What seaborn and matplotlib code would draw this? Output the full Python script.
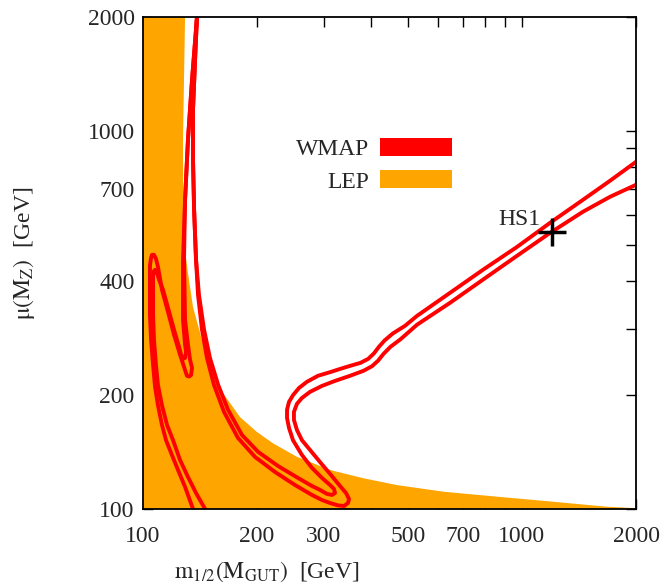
import pandas as pd
import seaborn as sns
import matplotlib
matplotlib.use('Agg')
import matplotlib.pyplot as plt
from matplotlib.patches import Patch

# LEP excluded region (upper edge of mu vs m_1/2)
lep_m12 = [100, 100, 129.1, 127.5, 127.5, 128.5, 131.4, 135.5, 143.1, 152.1, 162.8, 180.3,
           199.5, 220.7, 254.4, 311.5, 381.3, 467, 620, 857.5, 1209, 1673, 2000, 2000]
lep_mu = [100, 2000, 2000, 946, 600, 500, 421, 342, 280, 229, 202, 175,
          160, 149, 137.5, 126.8, 120.6, 115.7, 111.1, 107.8, 104.5, 101.4, 100.5, 100]

# WMAP contours, left loop (outer / inner)
wmap_a_out_m12 = [138.8, 134.7, 131.4, 129.1, 128.3, 129.1, 131.4, 133.1, 134.7, 133.9, 132.3,
                  130.6, 129.1, 125.2, 120.7, 116.4, 112.2, 109.5, 108.2, 106.9, 105.6, 105.0,
                  104.3, 104.3, 104.3, 105.0, 106.3, 107.6, 109.5, 112.2, 115.0, 119.2, 123.7,
                  129.1, 135.5]
wmap_a_out_mu = [2000, 1364, 946, 657, 456, 316, 272, 247.8, 236, 226, 224,
                 225, 233, 256, 289, 332, 380, 436.7, 458.4, 470, 470, 461.3,
                 439.4, 380, 326, 280, 240, 210, 188, 166.8, 152, 138.9, 126.8,
                 114.4, 100]
wmap_a_in_m12 = [138.8, 134.7, 131.4, 129.1, 127.5, 127.5, 129.1, 129.9, 129.1, 127.5, 126.0,
                 124.5, 120.7, 116.4, 112.9, 110.2, 108.9, 107.6, 106.9, 106.3, 106.3, 106.3,
                 106.9, 108.2, 109.5, 112.2, 115.7, 120.0, 125.2, 131.4, 138.0, 145.8]
wmap_a_in_mu = [2000, 1364, 946, 657, 456, 316, 272, 260.2, 250.8, 249.4, 256,
                268, 298, 340.3, 380, 404, 421, 429, 426.4, 413.4, 380, 326,
                280, 240, 212.8, 188, 166.8, 152, 134.8, 121.5, 110.2, 100]

# WMAP contours, right branch (inner / outer)
wmap_r_in_m12 = [138.8, 137.2, 135.5, 135.5, 136.4, 138.0, 140.5, 144.9, 150.2, 157.9, 167.6,
                 182.4, 201.2, 227.1, 256.4, 279.2, 293.1, 305.8, 315.3, 321.1, 319.1, 311.5,
                 296.7, 279.2, 262.7, 248.8, 242.8, 239.9, 239.9, 242.8, 248.8, 258.1, 270.9,
                 289.5, 311.5, 331.1, 351.8, 375.0, 393.0, 407.0, 419.4, 434.0, 456.0, 491.3,
                 528.4, 645.7, 789, 970, 1186, 1449, 1707, 2000]
wmap_r_in_mu = [2000, 1541, 1137, 838, 618, 456, 368, 298, 250.8, 212.8, 183,
                157, 141.6, 129.9, 120.8, 115, 112.3, 109.6, 108.9, 110.2, 113, 115.7,
                120.8, 128.4, 138.9, 152, 163.8, 174, 183, 191.9, 200, 209, 217,
                225, 230, 234.6, 239, 243.5, 249.5, 258.0, 268.5, 279.0, 291.0, 305,
                324, 372.8, 429, 493, 571, 657, 737.6, 828]
wmap_r_out_m12 = [138.8, 137.2, 135.5, 135.5, 136.4, 138.0, 139.7, 143.1, 147.5, 153.9, 163.6,
                  178.1, 197.5, 222.9, 251.8, 279.2, 296.7, 311.5, 327.0, 339.2, 347.5, 349.6,
                  343.4, 331.1, 313.3, 293.1, 275.8, 262.7, 254.8, 250.2, 250.2, 254.8, 262.7,
                  275.8, 296.7, 321.1, 351.8, 382.0, 402.0, 416.9, 431.0, 450.0, 478.0, 528.4,
                  645.7, 789, 970, 1186, 1449, 1707, 2000]
wmap_r_out_mu = [2000, 1541, 1137, 838, 618, 456, 368, 298, 250.8, 212.8, 180.6,
                 154.1, 137.3, 125.3, 115.7, 108.9, 105.6, 103.7, 102.2, 101.8, 103.7, 106.3,
                 110.2, 115.0, 123, 133.1, 143.3, 152, 161.8, 172, 180.6, 189.7, 196.6,
                 204, 211.6, 218.1, 225, 232, 238.5, 246.5, 257.0, 268.5, 281.0, 307,
                 350.8, 404, 467, 537, 611, 669, 720]

hs1_m12 = [1200]
hs1_mu = [540]

x_ticks = [100, 200, 300, 400, 500, 600, 700, 800, 900, 1000, 2000]
x_labels = ['100', '200', '300', '', '500', '', '700', '', '', '1000', '2000']
y_ticks = [100, 200, 300, 400, 500, 600, 700, 800, 900, 1000, 2000]
y_labels = ['100', '200', '', '400', '', '', '700', '', '', '1000', '2000']

sns.set_style('ticks')
plt.rcParams['font.family'] = ['Liberation Serif', 'DejaVu Serif']
plt.rcParams['mathtext.fontset'] = 'stix'

fs = 17
fig = plt.figure(figsize=(6.68, 5.88), dpi=100)
ax = fig.add_axes([0.2141, 0.1344, 0.738, 0.8367])

ax.fill(lep_m12, lep_mu, color='#ffa500', lw=0, zorder=1)

frames = []
for name, xs, ys in [('a_out', wmap_a_out_m12, wmap_a_out_mu),
                     ('a_in', wmap_a_in_m12, wmap_a_in_mu),
                     ('r_in', wmap_r_in_m12, wmap_r_in_mu),
                     ('r_out', wmap_r_out_m12, wmap_r_out_mu)]:
    frames.append(pd.DataFrame({'m12': xs, 'mu': ys, 'curve': name}))
df = pd.concat(frames, ignore_index=True)

sns.lineplot(data=df, x='m12', y='mu', units='curve', estimator=None, sort=False,
             color='#ff0000', lw=2.8, ax=ax, zorder=3)
for l in ax.lines:
    l.set_solid_joinstyle('round')

ax.plot(hs1_m12, hs1_mu, marker='+', color='black', ms=20, mew=2.5, ls='none', zorder=5)
ax.text(hs1_m12[0] * 0.93, hs1_mu[0] * 1.08, 'HS1', fontsize=fs, ha='right', va='center')

ax.set_xscale('log')
ax.set_yscale('log')
ax.set_xlim(100, 2000)
ax.set_ylim(100, 2000)
ax.set_xticks(x_ticks)
ax.set_xticklabels(x_labels)
ax.set_yticks(y_ticks)
ax.set_yticklabels(y_labels)
ax.minorticks_off()
ax.tick_params(direction='in', length=7, width=1, labelsize=fs, top=True, right=True, color='black')
ax.tick_params(axis='x', pad=12)
ax.tick_params(axis='y', pad=6)
for s in ax.spines.values():
    s.set_visible(True)
    s.set_linewidth(1.3)
    s.set_color('black')
    s.set_zorder(6)

ax.set_xlabel(r'$\mathrm{m}_{1/2}(\mathrm{M}_{\mathrm{GUT}})$  [GeV]', fontsize=fs)
ax.set_ylabel(r'$\mathrm{\mu}(\mathrm{M}_{\mathrm{Z}})$  [GeV]', fontsize=fs)
ax.xaxis.set_label_coords(0.252, -0.103)
ax.yaxis.set_label_coords(-0.215, 0.52)

handles = [Patch(facecolor='#ff0000', edgecolor='none', label='WMAP'),
           Patch(facecolor='#ffa500', edgecolor='none', label='LEP')]
ax.legend(handles=handles, loc='upper right', bbox_to_anchor=(0.627, 0.755), frameon=False,
          markerfirst=False, fontsize=fs, handlelength=3.05, handleheight=0.8,
          labelspacing=0.45, handletextpad=0.45, borderpad=0, borderaxespad=0)

fig.savefig('out.png', dpi=100)
